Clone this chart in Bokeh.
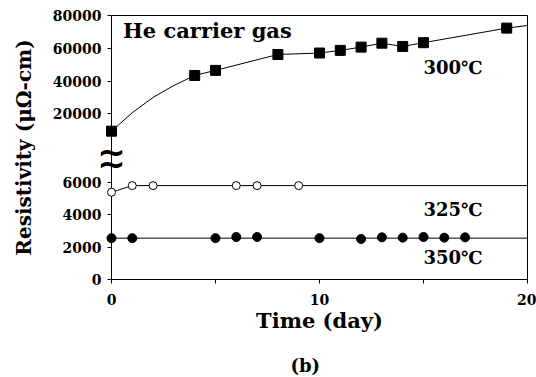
from bokeh.plotting import figure
from bokeh.models import Range1d, FixedTicker, Label
from bokeh.core.properties import value
from bokeh.embed import file_html
from bokeh.resources import INLINE

# ---- data ----
days_300 = [0, 4, 5, 8, 10, 11, 12, 13, 14, 15, 19]
res_300 = [9400, 43400, 46500, 56200, 57100, 58700, 60700, 63100, 61100, 63400, 72300]
curve_days_300 = [0, 1, 2, 3, 4, 5, 8, 10, 11, 12, 13, 14, 15, 19, 20]
curve_res_300 = [9400, 20700, 30000, 37300, 43400, 46500, 56200, 57100, 58700,
                 60700, 63100, 61100, 63400, 72300, 73900]

days_325 = [0, 1, 2, 6, 7, 9]
res_325 = [5380, 5790, 5790, 5790, 5790, 5790]
curve_days_325 = [0, 1, 20]
curve_res_325 = [5380, 5790, 5790]

days_350 = [0, 1, 5, 6, 7, 10, 12, 13, 14, 15, 16, 17]
res_350 = [2550, 2550, 2550, 2620, 2620, 2550, 2500, 2600, 2580, 2620, 2580, 2600]
curve_days_350 = [0, 20]
curve_res_350 = [2550, 2550]

lower_ticks = [0, 2000, 4000, 6000]
upper_ticks = [20000, 40000, 60000, 80000]
x_ticks = [0, 10, 20]
x_minor_ticks = [5, 15]

FONT = "DejaVu Serif"
INK = "black"

# broken axis: lower segment on the main range, upper segment on an extra range
lower_range = Range1d(0, 16280)
upper_range = Range1d(-81123, 80000)

p = figure(width=536, height=377, x_range=Range1d(0, 20), y_range=lower_range,
           output_backend="svg", toolbar_location=None,
           min_border_left=111, min_border_right=9, min_border_top=15, min_border_bottom=98)
p.extra_y_ranges = {"upper": upper_range}

p.xgrid.visible = False
p.ygrid.visible = False
p.outline_line_color = INK
p.outline_line_width = 1
p.background_fill_color = "white"
p.border_fill_color = "white"

def upper_to_lower(v):
    f = (v - upper_range.start) / (upper_range.end - upper_range.start)
    return lower_range.start + f * (lower_range.end - lower_range.start)

upper_pos = [upper_to_lower(v) for v in upper_ticks]
ytick_vals = lower_ticks + upper_pos
overrides = {t: str(t) for t in lower_ticks}
overrides.update({pos: str(v) for pos, v in zip(upper_pos, upper_ticks)})

yax = p.yaxis[0]
yax.ticker = FixedTicker(ticks=ytick_vals)
yax.major_label_overrides = overrides
yax.minor_tick_line_color = None
yax.major_tick_out = 4
yax.major_tick_in = 0
yax.major_label_standoff = 6
yax.axis_label = "Resistivity (μΩ-cm)"
yax.axis_label_text_font = FONT
yax.axis_label_text_font_style = "bold"
yax.axis_label_text_font_size = "20px"
yax.axis_label_text_color = INK
yax.axis_label_standoff = 14
yax.major_label_text_font = FONT
yax.major_label_text_font_style = "bold"
yax.major_label_text_font_size = "14px"
yax.major_label_text_color = INK
yax.axis_line_color = INK
yax.major_tick_line_color = INK

xax = p.xaxis[0]
xax.ticker = FixedTicker(ticks=x_ticks, minor_ticks=x_minor_ticks)
xax.major_tick_out = 4
xax.major_tick_in = 0
xax.minor_tick_out = 4
xax.minor_tick_in = 0
xax.major_label_standoff = 10
xax.axis_label = "Time (day)"
xax.axis_label_text_font = FONT
xax.axis_label_text_font_style = "bold"
xax.axis_label_text_font_size = "21px"
xax.axis_label_text_color = INK
xax.axis_label_standoff = 0
xax.major_label_text_font = FONT
xax.major_label_text_font_style = "bold"
xax.major_label_text_font_size = "14px"
xax.major_label_text_color = INK
xax.axis_line_color = INK
xax.major_tick_line_color = INK
xax.minor_tick_line_color = INK

# lines
p.line(curve_days_300, curve_res_300, y_range_name="upper", line_color=INK, line_width=1, level="overlay")
p.line(curve_days_325, curve_res_325, line_color=INK, line_width=1, level="overlay")
p.line(curve_days_350, curve_res_350, line_color=INK, line_width=1, level="overlay")

# markers
p.scatter(days_300, res_300, y_range_name="upper", marker="square", size=10,
          fill_color=INK, line_color=INK, level="overlay")
p.scatter(days_325, res_325, marker="circle", size=8, fill_color="white",
          line_color=INK, line_width=1, level="overlay")
p.scatter(days_350, res_350, marker="circle", size=9, fill_color=INK,
          line_color=INK, level="overlay")

# texts
p.add_layout(Label(x=0.55, y=70845, y_range_name="upper", text="He carrier gas",
                   text_font=FONT, text_font_style="bold", text_font_size="21px",
                   text_color=INK, text_baseline="alphabetic", text_align="left"))
for txt, yv, rng in (("300℃", 48260, "upper"), ("325℃", 4316, "default"), ("350℃", 1356, "default")):
    p.add_layout(Label(x=15, y=yv, y_range_name=rng, text=txt,
                       text_font=FONT, text_font_style="bold", text_font_size="18px",
                       text_color=INK, text_baseline="alphabetic", text_align="left"))

# axis break marks (drawn above the frame clip)
p.text(x=[0, 0], y=[7850, 7150], text=["~", "~"], text_font=value("DejaVu Sans"),
       text_font_size="34px", text_font_style="bold", text_color=INK,
       text_align="center", text_baseline="middle", level="overlay")

# panel caption below the axis title (overlay level is not clipped to the frame)
p.text(x=[8.6], y=[-5300], text=["(b)"], text_font=value(FONT), text_font_style="bold",
       text_font_size="18px", text_color=INK, text_align="left",
       text_baseline="middle", level="overlay")

open("out.html", "w").write(file_html(p, INLINE))
